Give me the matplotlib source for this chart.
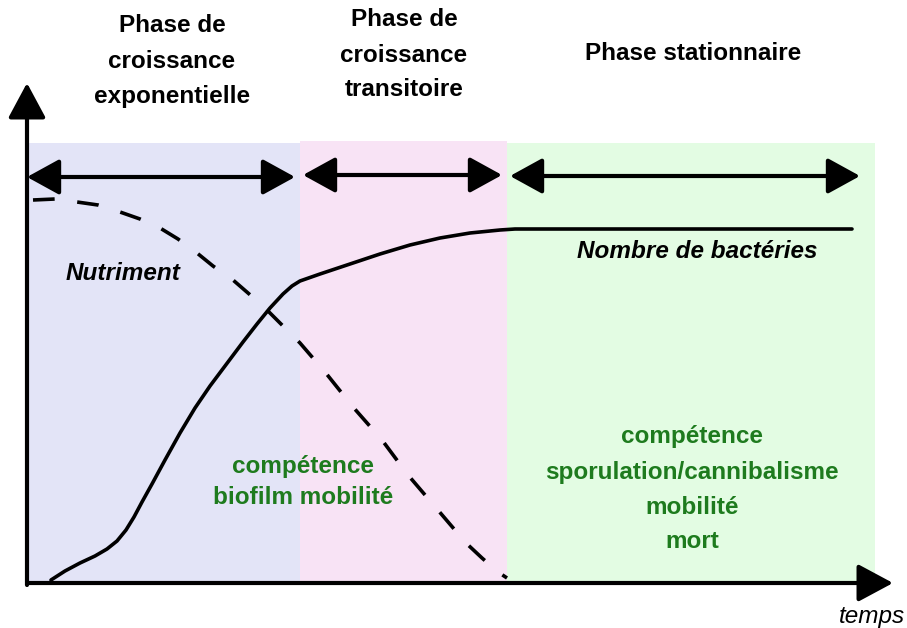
import matplotlib.pyplot as plt
from matplotlib.patches import Rectangle, FancyArrowPatch

plt.rcParams['font.family'] = ['Liberation Sans', 'DejaVu Sans']

# phases (schematic units, same scale as the picture)
phase_names = ["Phase de\ncroissance\nexponentielle",
               "Phase de\ncroissance\ntransitoire",
               "Phase stationnaire"]
phase_start = [27, 300, 507]
phase_end = [300, 507, 875]
phase_top = [143, 141, 143]
phase_colors = ['#e3e4f7', '#f8e3f5', '#e3fce3']
phase_title_x = [172, 404, 693]
phase_title_y = [26, 20, 53]
arrow_x0 = [27, 303, 510]
arrow_x1 = [295, 502, 860]
arrow_y = [177, 175, 176]

# bacteria count (solid curve)
bact_t = [51, 65, 80, 95, 107, 117, 126, 134, 142, 152, 165, 180, 195, 210, 225,
          243, 257, 270, 283, 292, 300, 320, 350, 380, 410, 440, 470, 500, 515,
          530, 852]
bact_y = [580, 571, 563, 556, 549, 541, 530, 517, 502, 484, 460, 433, 408, 386, 366,
          342, 324, 308, 294, 286, 281, 274, 264, 254, 245, 238, 233, 230, 229,
          229, 229]

# nutrient (dashed curve)
nutr_t = [33, 55, 77, 98, 120, 140, 160, 178, 197, 213, 233, 248, 265, 280, 300,
          325, 353, 382, 408, 437, 466, 482, 498, 507]
nutr_y = [200, 199, 202, 205, 212, 219, 228, 239, 253, 266, 280, 293, 308, 323, 343,
          372, 407, 440, 475, 509, 543, 558, 572, 578]

left_green = ["compétence", "biofilm mobilité"]
right_green = ["compétence", "sporulation/cannibalisme", "mobilité", "mort"]

fig = plt.figure(figsize=(9.07, 6.28), dpi=100)
ax = fig.add_axes([0, 0, 1, 1])
ax.set_xlim(0, 907)
ax.set_ylim(628, 0)
ax.axis('off')

for x0, x1, top, c in zip(phase_start, phase_end, phase_top, phase_colors):
    ax.add_patch(Rectangle((x0, top), x1 - x0, 583 - top, color=c, lw=0, zorder=0))

for name, x, y in zip(phase_names, phase_title_x, phase_title_y):
    for i, line in enumerate(name.split("\n")):
        ax.text(x, y + i * 35, line, ha='center', va='center', fontsize=17.5,
                fontweight='bold', color='black')

for x0, x1, y in zip(arrow_x0, arrow_x1, arrow_y):
    ax.add_patch(FancyArrowPatch((x0, y), (x1, y),
                                 arrowstyle='<|-|>,head_length=1.0,head_width=0.55',
                                 mutation_scale=20, lw=3, color='black',
                                 shrinkA=0, shrinkB=0, zorder=3))

# axes
axis_style = '-|>,head_length=1.08,head_width=0.58'
ax.add_patch(FancyArrowPatch((27, 585), (27, 83), arrowstyle=axis_style,
                             mutation_scale=20, lw=3, color='black',
                             shrinkA=0, shrinkB=0, zorder=4))
ax.add_patch(FancyArrowPatch((27, 583), (893, 583), arrowstyle=axis_style,
                             mutation_scale=20, lw=3, color='black',
                             shrinkA=0, shrinkB=0, zorder=4))

ax.plot(bact_t, bact_y, color='black', lw=2.6, solid_capstyle='round',
        solid_joinstyle='round', zorder=2)
ax.plot(nutr_t, nutr_y, color='black', lw=2.6, linestyle=(0, (6, 6.3)),
        dash_capstyle='butt', zorder=2)

ax.text(66, 273, "Nutriment", ha='left', va='center', fontsize=17.5,
        fontweight='bold', fontstyle='italic')
ax.text(577, 252, "Nombre de bactéries", ha='left', va='center', fontsize=17.5,
        fontweight='bold', fontstyle='italic')

green = '#1e7b1e'
for i, line in enumerate(left_green):
    ax.text(303, 466 + i * 31, line, ha='center', va='center', fontsize=17.5,
            fontweight='bold', color=green)
for i, line in enumerate(right_green):
    ax.text(692, 437 + i * 35, line, ha='center', va='center', fontsize=17.5,
            fontweight='bold', color=green)

ax.text(905, 617, "temps", ha='right', va='center', fontsize=17.5, fontstyle='italic')

fig.savefig("out.png", dpi=100)
